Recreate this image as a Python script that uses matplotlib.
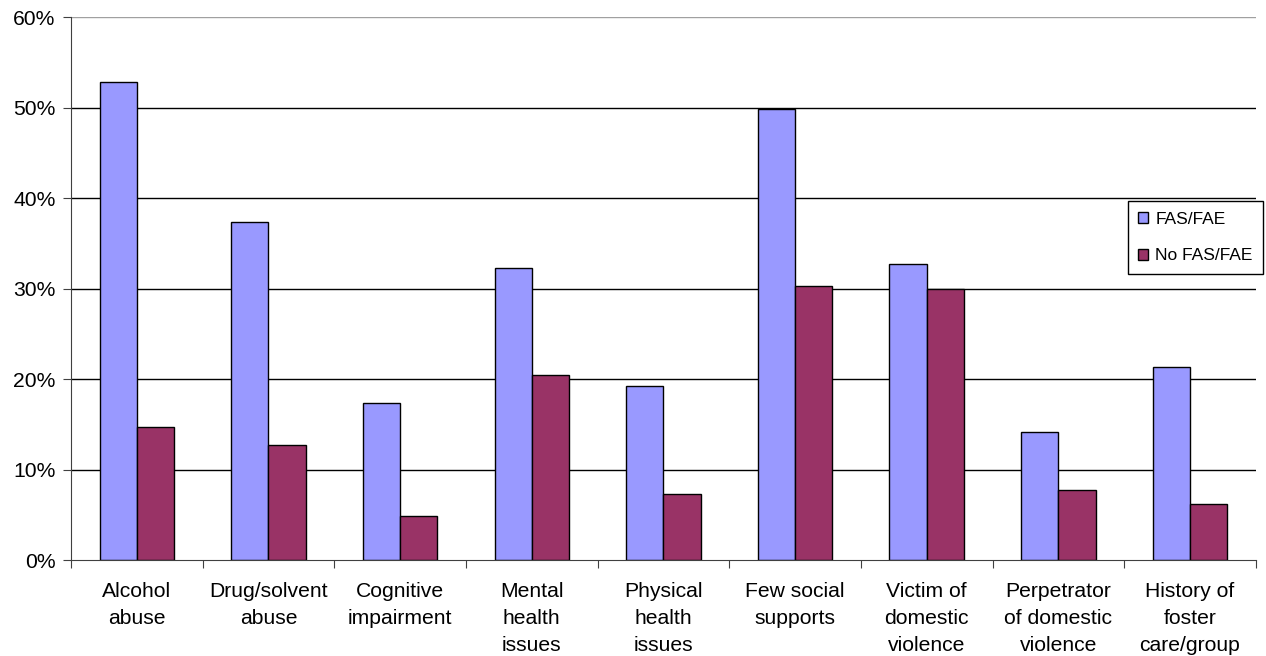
import numpy as np
import matplotlib.pyplot as plt
from matplotlib.ticker import FuncFormatter

plt.rcParams['font.family'] = ['Liberation Sans', 'DejaVu Sans']

categories = ['Alcohol\nabuse', 'Drug/solvent\nabuse', 'Cognitive\nimpairment',
              'Mental\nhealth\nissues', 'Physical\nhealth\nissues', 'Few social\nsupports',
              'Victim of\ndomestic\nviolence', 'Perpetrator\nof domestic\nviolence',
              'History of\nfoster\ncare/group']
fas = [52.8, 37.3, 17.3, 32.3, 19.2, 49.8, 32.7, 14.2, 21.3]
no_fas = [14.7, 12.7, 4.9, 20.5, 7.3, 30.3, 30.0, 7.7, 6.2]

x = np.arange(len(categories))
w = 0.283

fig = plt.figure(figsize=(12.66, 6.56), dpi=100)
ax = fig.add_axes([0.0561, 0.1463, 0.9359, 0.8277])

for v in [10, 20, 30, 40, 50]:
    ax.axhline(v, color='black', linewidth=1, zorder=0)
ax.axhline(60, color='#a0a0a0', linewidth=1, zorder=0)

ax.bar(x - w/2, fas, w, color='#9999FF', edgecolor='black', linewidth=1, label='FAS/FAE', zorder=2)
ax.bar(x + w/2, no_fas, w, color='#993366', edgecolor='black', linewidth=1, label='No FAS/FAE', zorder=2)

ax.set_xlim(-0.5, len(categories) - 0.5)
ax.set_ylim(0, 60)
ax.set_yticks(range(0, 61, 10))
ax.yaxis.set_major_formatter(FuncFormatter(lambda v, p: '%d%%' % v))
ax.tick_params(axis='y', labelsize=15.2, length=6, color='#404040', pad=5)

ax.set_xticks(np.arange(-0.5, len(categories), 1))
ax.set_xticklabels([])
ax.tick_params(axis='x', which='major', length=6, color='#404040')
ax.set_xticks(x, minor=True)
ax.set_xticklabels(categories, minor=True, fontsize=15.2, linespacing=1.52)
ax.tick_params(axis='x', which='minor', length=0, pad=16)

for s in ['top', 'right']:
    ax.spines[s].set_visible(False)
ax.spines['left'].set_color('#404040')
ax.spines['bottom'].set_color('#404040')

ax.legend(loc='upper left', bbox_to_anchor=(0.8917, 0.661), borderaxespad=0, fontsize=12.5,
          frameon=True, fancybox=False, edgecolor='black', framealpha=1,
          handlelength=0.6, handleheight=0.6, labelspacing=1.25, borderpad=0.6,
          handletextpad=0.4)

fig.savefig('out.png', dpi=100)
